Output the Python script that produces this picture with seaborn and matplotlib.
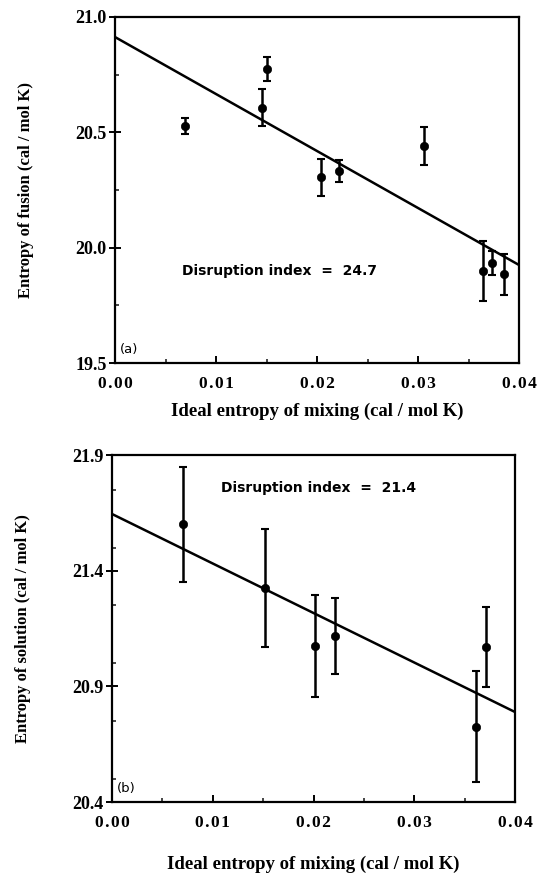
import numpy as np
import pandas as pd
import matplotlib
matplotlib.use("Agg")
import matplotlib.pyplot as plt
import seaborn as sns
from matplotlib.ticker import MultipleLocator

# Panel (a): entropy of fusion
fus_x = [0.0069, 0.0146, 0.0150, 0.0204, 0.0222, 0.0306, 0.0364, 0.0373, 0.0385]
fus_y = [20.526, 20.607, 20.776, 20.306, 20.332, 20.441, 19.899, 19.935, 19.884]
fus_err = [0.035, 0.08, 0.052, 0.08, 0.048, 0.081, 0.13, 0.052, 0.088]
fus_line = [20.913, 24.7]  # intercept, disruption index (slope magnitude)

# Panel (b): entropy of solution
sol_x = [0.0070, 0.0152, 0.0201, 0.0221, 0.0361, 0.0371]
sol_y = [21.60, 21.327, 21.075, 21.117, 20.726, 21.069]
sol_err = [0.25, 0.255, 0.22, 0.163, 0.24, 0.172]
sol_line = [21.645, 21.4]

x_ticks = [0.00, 0.01, 0.02, 0.03, 0.04]
x_ticklabels = ["0.00", "0.01", "0.02", "0.03", "0.04"]

sns.set_theme(style="ticks")
plt.rcParams['font.family'] = ['DejaVu Sans']
plt.rcParams['text.color'] = 'black'
plt.rcParams['axes.labelcolor'] = 'black'

fig = plt.figure(figsize=(5.38, 8.75), dpi=100)
ax1 = fig.add_axes([0.2138, 0.5851, 0.7509, 0.3955])
ax2 = fig.add_axes([0.2082, 0.0834, 0.7491, 0.3966])

serif = ["Liberation Serif", "DejaVu Serif"]
sp = "\u200a"

def draw(ax, xs, ys, errs, line, ylim, yticks, ylabel, label, note, note_xy, xlabel_pad):
    df = pd.DataFrame({"x": xs, "y": ys})
    ax.errorbar(xs, ys, yerr=errs, fmt="none", ecolor="black", elinewidth=1.8,
                capsize=3, capthick=1.5, zorder=2)
    sns.scatterplot(data=df, x="x", y="y", ax=ax, color="black", s=36,
                    edgecolor="black", zorder=3, legend=False)
    lx = np.array([0.0, 0.04])
    ly = line[0] - line[1] * lx
    sns.lineplot(x=lx, y=ly, ax=ax, color="black", lw=1.8, zorder=1)
    ax.set_xlim(0, 0.04)
    ax.set_ylim(*ylim)
    ax.set_xticks(x_ticks)
    ax.set_xticklabels([sp.join(t) for t in x_ticklabels], fontfamily=serif,
                       fontweight="bold", fontsize=12.5)
    ax.set_yticks(yticks)
    ax.set_yticklabels([f"{t:.1f}" for t in yticks], fontfamily=serif,
                       fontweight="bold", fontsize=13)
    ax.xaxis.set_minor_locator(MultipleLocator(0.005))
    ax.yaxis.set_minor_locator(MultipleLocator((yticks[1] - yticks[0]) / 2))
    ax.tick_params(axis="x", which="major", direction="in", length=5, width=1.4,
                   pad=9, colors="black")
    ax.tick_params(axis="x", which="minor", direction="in", length=3, width=1.2)
    ax.tick_params(axis="y", which="major", direction="inout", length=8, width=1.4,
                   pad=2, colors="black")
    ax.tick_params(axis="y", which="minor", direction="in", length=3, width=1.2)
    for s in ax.spines.values():
        s.set_linewidth(1.6)
        s.set_color("black")
    ax.set_xlabel("Ideal entropy of mixing (cal / mol K)", fontfamily=serif,
                  fontweight="bold", fontsize=13.5, labelpad=xlabel_pad)
    ax.set_ylabel(ylabel, fontfamily=serif, fontweight="bold", fontsize=12,
                  labelpad=30)
    ax.text(0.012, 0.02, label, transform=ax.transAxes, fontsize=9.5,
            ha="left", va="bottom", color="black")
    ax.text(note_xy[0], note_xy[1], note, transform=ax.transAxes, fontsize=10,
            fontweight="bold", ha="left", va="center", color="black")

draw(ax1, fus_x, fus_y, fus_err, fus_line, (19.5, 21.0), [19.5, 20.0, 20.5, 21.0],
     "Entropy of fusion (cal / mol K)", "(a)", "Disruption index  =  24.7",
     (0.165, 0.265), 8)
draw(ax2, sol_x, sol_y, sol_err, sol_line, (20.4, 21.9), [20.4, 20.9, 21.4, 21.9],
     "Entropy of solution (cal / mol K)", "(b)", "Disruption index  =  21.4",
     (0.27, 0.905), 18)

fig.savefig("out.png", dpi=100)
